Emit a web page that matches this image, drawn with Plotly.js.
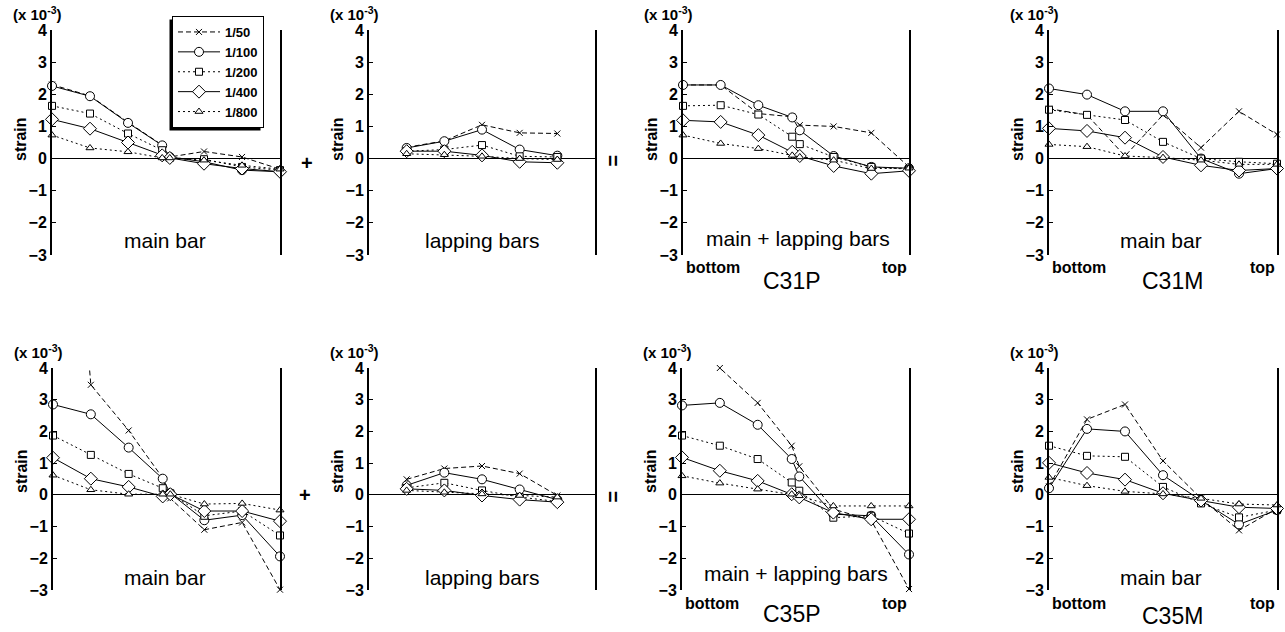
<!DOCTYPE html>
<html><head><meta charset="utf-8">
<script src="https://cdn.plot.ly/plotly-3.0.1.min.js"></script>
<style>html,body{margin:0;padding:0;background:#fff}</style>
</head><body><div id="chart" style="width:1285px;height:632px"></div>
<script>
// ---------- data ----------
const drifts = ['1/50', '1/100', '1/200', '1/400', '1/800'];
const posP = [0, 1, 2, 2.9, 3.1, 4, 5, 6];   // gauge positions, main bar / sum (P specimens)
const posLap = [1, 2, 3, 4, 5];              // lapping bar gauge positions
const posM = [0, 1, 2, 3, 4, 5, 6];          // gauge positions, M specimens

// C31P main bar
const c31pMain50  = [2.30, 1.95, 1.13, 0.42, 0.05, 0.22, 0.05, -0.33];
const c31pMain100 = [2.26, 1.94, 1.11, 0.41, 0.05, -0.10, -0.36, -0.41];
const c31pMain200 = [1.64, 1.40, 0.78, 0.26, 0.02, -0.02, -0.26, -0.36];
const c31pMain400 = [1.22, 0.93, 0.50, 0.10, 0.02, -0.16, -0.31, -0.41];
const c31pMain800 = [0.73, 0.33, 0.21, 0.02, 0.02, -0.05, -0.21, -0.33];
// C31P lapping bars
const c31pLap50  = [0.35, 0.55, 1.05, 0.80, 0.78];
const c31pLap100 = [0.33, 0.54, 0.90, 0.28, 0.09];
const c31pLap200 = [0.23, 0.28, 0.42, 0.07, 0.05];
const c31pLap400 = [0.23, 0.23, 0.10, -0.10, -0.13];
const c31pLap800 = [0.15, 0.12, 0.07, 0.00, -0.03];
// C31P main + lapping bars
const c31pSum50  = [2.29, 2.29, 1.40, 1.30, 1.04, 1.00, 0.80, -0.26];
const c31pSum100 = [2.29, 2.29, 1.66, 1.28, 0.88, 0.08, -0.26, -0.30];
const c31pSum200 = [1.64, 1.66, 1.37, 0.68, 0.45, 0.05, -0.26, -0.33];
const c31pSum400 = [1.19, 1.14, 0.73, 0.21, 0.08, -0.23, -0.47, -0.38];
const c31pSum800 = [0.73, 0.47, 0.31, 0.10, 0.05, -0.05, -0.31, -0.30];
// C31M main bar
const c31mMain50  = [1.55, 1.36, 0.08, 1.36, 0.34, 1.47, 0.75];
const c31mMain100 = [2.18, 1.99, 1.47, 1.47, 0.00, -0.47, -0.31];
const c31mMain200 = [1.52, 1.36, 1.20, 0.52, 0.00, -0.10, -0.16];
const c31mMain400 = [0.94, 0.86, 0.65, 0.05, -0.21, -0.37, -0.31];
const c31mMain800 = [0.44, 0.37, 0.08, 0.03, -0.05, -0.18, -0.18];
// C35P main bar
const c35pMain50  = [18.0, 3.47, 2.03, 0.53, -0.11, -1.10, -0.87, -2.99];
const c35pMain100 = [2.85, 2.54, 1.49, 0.51, 0.05, -0.80, -0.64, -1.94];
const c35pMain200 = [1.87, 1.26, 0.66, 0.21, 0.05, -0.66, -0.51, -1.28];
const c35pMain400 = [1.17, 0.51, 0.25, -0.05, 0.02, -0.51, -0.51, -0.83];
const c35pMain800 = [0.62, 0.16, 0.02, 0.02, 0.02, -0.29, -0.27, -0.48];
// C35P lapping bars
const c35pLap50  = [0.49, 0.83, 0.91, 0.67, -0.02];
const c35pLap100 = [0.30, 0.70, 0.49, 0.17, -0.15];
const c35pLap200 = [0.22, 0.38, 0.14, -0.07, -0.21];
const c35pLap400 = [0.19, 0.14, -0.02, -0.15, -0.23];
const c35pLap800 = [0.14, 0.08, 0.03, -0.02, -0.07];
// C35P main + lapping bars
const c35pSum50  = [18.0, 4.00, 2.90, 1.55, 0.90, -0.45, -0.80, -2.97];
const c35pSum100 = [2.82, 2.90, 2.21, 1.13, 0.58, -0.61, -0.66, -1.88];
const c35pSum200 = [1.87, 1.55, 1.13, 0.39, 0.13, -0.72, -0.66, -1.22];
const c35pSum400 = [1.18, 0.76, 0.44, 0.02, -0.08, -0.56, -0.77, -0.77];
const c35pSum800 = [0.60, 0.37, 0.18, 0.02, -0.03, -0.35, -0.35, -0.35];
// C35M main bar
const c35mMain50  = [0.27, 2.38, 2.85, 1.07, -0.11, -1.12, -0.43];
const c35mMain100 = [0.21, 2.08, 2.00, 0.62, -0.18, -0.93, -0.48];
const c35mMain200 = [1.55, 1.23, 1.20, 0.25, -0.27, -0.71, -0.48];
const c35mMain400 = [1.01, 0.69, 0.48, 0.05, -0.18, -0.39, -0.43];
const c35mMain800 = [0.55, 0.29, 0.11, 0.03, -0.11, -0.29, -0.32];

const yTickVals = [-3, -2, -1, 0, 1, 2, 3, 4];
const panelCaptions = ['main bar', 'lapping bars', 'main + lapping bars', 'main bar',
                       'main bar', 'lapping bars', 'main + lapping bars', 'main bar'];
const specimens = ['C31P', 'C31M', 'C35P', 'C35M'];

const panelData = [
  {x: posP,   ys: [c31pMain50, c31pMain100, c31pMain200, c31pMain400, c31pMain800]},
  {x: posLap, ys: [c31pLap50, c31pLap100, c31pLap200, c31pLap400, c31pLap800]},
  {x: posP,   ys: [c31pSum50, c31pSum100, c31pSum200, c31pSum400, c31pSum800]},
  {x: posM,   ys: [c31mMain50, c31mMain100, c31mMain200, c31mMain400, c31mMain800]},
  {x: posP,   ys: [c35pMain50, c35pMain100, c35pMain200, c35pMain400, c35pMain800]},
  {x: posLap, ys: [c35pLap50, c35pLap100, c35pLap200, c35pLap400, c35pLap800]},
  {x: posP,   ys: [c35pSum50, c35pSum100, c35pSum200, c35pSum400, c35pSum800]},
  {x: posM,   ys: [c35mMain50, c35mMain100, c35mMain200, c35mMain400, c35mMain800]}
];

// ---------- styles / layout ----------
const W = 1285, H = 632;
const px = v => v / W, py = v => 1 - v / H;
const FONT = '"Liberation Sans", Arial, Helvetica, sans-serif';

const seriesStyle = [
  {dash: '5px,3px', symbol: 'x-thin-open', size: 6},
  {dash: 'solid',   symbol: 'circle',      size: 9},
  {dash: '2px,3px', symbol: 'square',      size: 7},
  {dash: 'solid',   symbol: 'diamond',     size: 10},
  {dash: '2px,3px', symbol: 'triangle-up', size: 7}
];

const geom = [
  {l: 52, r: 280, t: 30, b: 255}, {l: 369, r: 595, t: 30, b: 255},
  {l: 683, r: 909, t: 30, b: 255}, {l: 1049, r: 1277, t: 30, b: 255},
  {l: 53, r: 280, t: 368, b: 590}, {l: 369, r: 595, t: 368, b: 590},
  {l: 682, r: 909, t: 368, b: 590}, {l: 1049, r: 1277, t: 368, b: 590}
];
const captionPos = [[165, 240], [482, 240], [798, 238], [1161, 240],
                    [165, 577], [482, 577], [796, 573], [1161, 577]];
const LEG_LEFT = 172, LEG_TOP = 16;

const traces = [];
const layout = {
  width: W, height: H, autosize: false,
  margin: {l: 0, r: 0, t: 0, b: 0},
  paper_bgcolor: '#fff', plot_bgcolor: 'rgba(0,0,0,0)',
  font: {family: FONT, color: '#000'},
  showlegend: true,
  legend: {x: px(LEG_LEFT), y: py(LEG_TOP), xanchor: 'left', yanchor: 'top',
           bgcolor: '#fff', bordercolor: '#000', borderwidth: 1, itemwidth: 42,
           font: {family: FONT, size: 13, weight: 'bold', color: '#000'},
           traceorder: 'normal'},
  annotations: [], shapes: []
};

panelData.forEach((p, i) => {
  const n = i + 1, g = geom[i];
  const xa = 'x' + (n === 1 ? '' : n), ya = 'y' + (n === 1 ? '' : n);
  layout['xaxis' + (n === 1 ? '' : n)] = {
    domain: [px(g.l), px(g.r)], range: [0, 6], anchor: ya,
    showline: false, showgrid: false, zeroline: false, showticklabels: false, ticks: ''
  };
  layout['yaxis' + (n === 1 ? '' : n)] = {
    domain: [py(g.b), py(g.t)], range: [-3, 4], anchor: xa,
    tickvals: yTickVals, ticks: 'inside', ticklen: 4, tickwidth: 1, tickcolor: '#000',
    showline: true, linewidth: 2, linecolor: '#000', mirror: true,
    showgrid: false, zeroline: true, zerolinecolor: '#000', zerolinewidth: 1,
    tickfont: {family: FONT, size: 16, weight: 'bold', color: '#000'}
  };
  p.ys.forEach((y, k) => {
    const s = seriesStyle[k];
    const open = s.symbol.indexOf('x-thin') === 0;
    traces.push({
      type: 'scatter', mode: 'lines+markers', x: p.x, y: y,
      xaxis: xa, yaxis: ya, name: drifts[k], legendgroup: drifts[k],
      showlegend: i === 0, cliponaxis: false,
      line: {color: '#000', width: 1, dash: s.dash},
      marker: {symbol: s.symbol, size: s.size, color: open ? '#000' : '#fff',
               line: {color: '#000', width: 1}}
    });
  });
  // axis scale label
  layout.annotations.push({xref: 'paper', yref: 'paper', x: px(g.l - 15), y: py(g.t - 17),
    text: '(x 10<sup>-3</sup>)', showarrow: false, xanchor: 'center', yanchor: 'middle',
    borderpad: 0, font: {family: FONT, size: 15, weight: 'bold'}});
  // y title
  layout.annotations.push({xref: 'paper', yref: 'paper', x: px(g.l - 32),
    y: py(i < 4 ? 139 : 471), text: 'strain', textangle: -90, showarrow: false,
    xanchor: 'center', yanchor: 'middle', font: {family: FONT, size: 16, weight: 'bold'}});
  // caption inside panel
  layout.annotations.push({xref: 'paper', yref: 'paper', x: px(captionPos[i][0]), y: py(captionPos[i][1]),
    text: panelCaptions[i], showarrow: false, xanchor: 'center', yanchor: 'middle',
    font: {family: FONT, size: 21}});
  // bottom / top labels
  if (i === 2 || i === 3 || i === 6 || i === 7) {
    const yy = i < 4 ? 267 : 603;
    layout.annotations.push({xref: 'paper', yref: 'paper', x: px(g.l + 1), y: py(yy), text: 'bottom',
      showarrow: false, xanchor: 'left', yanchor: 'middle', font: {family: FONT, size: 16, weight: 'bold'}});
    layout.annotations.push({xref: 'paper', yref: 'paper', x: px(g.r), y: py(yy), text: 'top',
      showarrow: false, xanchor: 'right', yanchor: 'middle', font: {family: FONT, size: 16, weight: 'bold'}});
  }
});

// specimen names
const specPos = [[792, 281], [1172, 281], [792, 614], [1172, 616]];
specimens.forEach((s, k) => layout.annotations.push({xref: 'paper', yref: 'paper',
  x: px(specPos[k][0]), y: py(specPos[k][1]), text: s, showarrow: false,
  xanchor: 'center', yanchor: 'middle', borderpad: 0, font: {family: FONT, size: 23}}));

// operators
[[307, 163, '+', 0], [305, 495, '+', 0], [613, 161, '=', 90], [613, 497, '=', 90]].forEach(o =>
  layout.annotations.push({xref: 'paper', yref: 'paper', x: px(o[0]), y: py(o[1]), text: o[2],
    textangle: o[3], showarrow: false, xanchor: 'center', yanchor: 'middle',
    font: {family: FONT, size: 20, weight: 'bold'}}));

const gd = document.getElementById('chart');
Plotly.newPlot(gd, traces, layout, {staticPlot: true, displayModeBar: false});

// legend drop shadow (thick left / bottom edge), sized from the drawn legend box
(function () {
  const bg = gd.querySelector('.legend rect.bg');
  if (!bg) return;
  const box = gd.getBoundingClientRect();
  const r = bg.getBoundingClientRect();
  const left = r.left - box.left, top = r.top - box.top;
  Plotly.relayout(gd, {
    shapes: [{type: 'rect', xref: 'paper', yref: 'paper', layer: 'above',
      x0: px(left - 3), x1: px(left - 3 + r.width), y0: py(top + r.height + 3), y1: py(top + 3),
      fillcolor: '#000', line: {width: 0}}]
  });
})();
</script></body></html>
